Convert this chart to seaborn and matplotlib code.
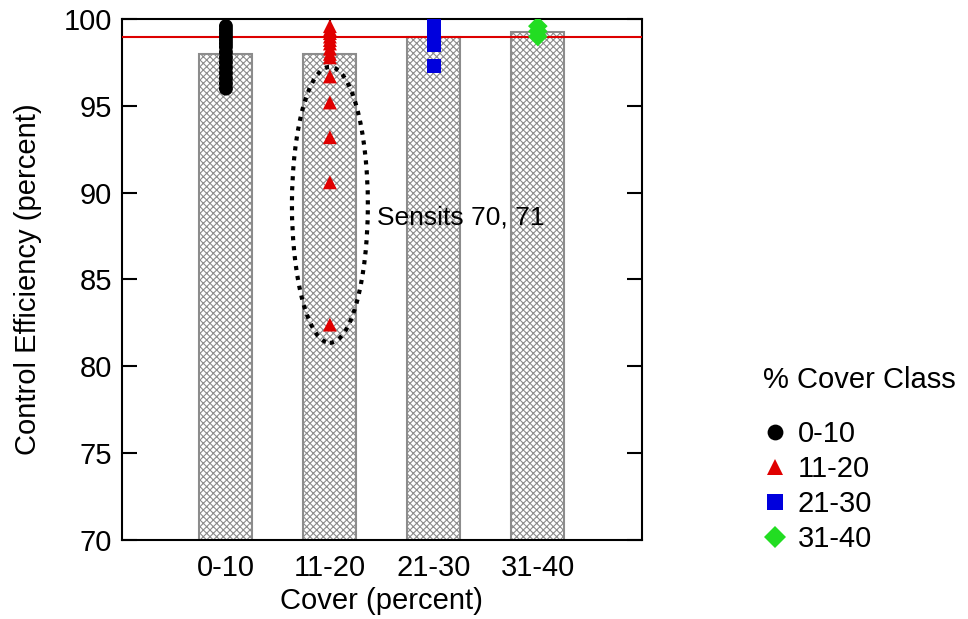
import numpy as np
import pandas as pd
import seaborn as sns
import matplotlib.pyplot as plt
from matplotlib.patches import Ellipse

categories = ["0-10", "11-20", "21-30", "31-40"]
bar_values = [98.0, 98.0, 99.0, 99.25]
target = 99.0

pts_0_10 = [99.6, 99.4, 99.2, 99.0, 98.8, 98.6, 98.4, 98.1, 97.8, 97.5, 97.2, 96.9, 96.6, 96.3, 96.0]
pts_11_20 = [99.6, 99.4, 99.2, 99.0, 98.8, 98.6, 98.3, 98.0, 97.8, 96.7, 95.2, 93.2, 90.6, 82.4]
pts_21_30 = [99.6, 99.3, 99.0, 98.7, 98.5, 97.3]
pts_31_40 = [99.6, 99.3, 99.0]

colors = ["#000000", "#e00000", "#0000dd", "#22dd22"]
markers = ["o", "^", "s", "D"]

sns.set_style("white")
plt.rcParams["font.family"] = ["Liberation Sans", "DejaVu Sans"]
plt.rcParams["text.color"] = "black"
plt.rcParams["axes.labelcolor"] = "black"
plt.rcParams["xtick.color"] = "black"
plt.rcParams["ytick.color"] = "black"
plt.rcParams["hatch.color"] = "#8c8c8c"
plt.rcParams["hatch.linewidth"] = 0.8

bars = pd.DataFrame({"Cover": categories, "CE": bar_values})
pts = pd.DataFrame({
    "Cover": ["0-10"] * len(pts_0_10) + ["11-20"] * len(pts_11_20)
             + ["21-30"] * len(pts_21_30) + ["31-40"] * len(pts_31_40),
    "CE": pts_0_10 + pts_11_20 + pts_21_30 + pts_31_40,
})

fig = plt.figure(figsize=(9.68, 6.19), dpi=100)
ax = fig.add_axes([0.126, 0.128, 0.537, 0.841])

sns.barplot(data=bars, x="Cover", y="CE", color="white", width=0.51,
            edgecolor="#8c8c8c", linewidth=1.5, ax=ax)
for p in ax.patches:
    p.set_hatch("xxxxx")

ax.axhline(target, color="#dd0000", lw=1.5, zorder=3)

sns.scatterplot(data=pts, x="Cover", y="CE", hue="Cover", style="Cover",
                palette=colors, markers=markers, s=90, edgecolor="none",
                linewidth=0, zorder=4, ax=ax)
# per-class marker sizes
for coll, sz in zip(ax.collections, [100, 70, 70, 40]):
    coll.set_sizes([sz])

ax.add_patch(Ellipse((1, 89.3), width=0.73, height=15.9, fill=False,
                     ls=(0, (1, 1.4)), lw=3, color="black", zorder=5))
ax.text(1.45, 88.6, "Sensits 70, 71", fontsize=19, va="center", ha="left")

ax.set_xlim(-1, 4)
ax.set_ylim(70, 100)
ax.set_yticks([70, 75, 80, 85, 90, 95, 100])
ax.set_xlabel("Cover (percent)", fontsize=21, labelpad=4)
ax.set_ylabel("Control Efficiency (percent)", fontsize=21, labelpad=16)
ax.tick_params(axis="both", direction="in", length=11, width=1.5, labelsize=21,
               top=True, right=True, bottom=True, left=True)
ax.tick_params(axis="x", pad=10)
ax.tick_params(axis="y", pad=7)
for sp in ax.spines.values():
    sp.set_visible(True)
    sp.set_color("black")
    sp.set_linewidth(1.5)

handles, labels = ax.get_legend_handles_labels()
ax.legend(handles, labels, title="% Cover Class", loc="upper left",
          bbox_to_anchor=(0.776, 0.428), bbox_transform=fig.transFigure,
          frameon=False, fontsize=21, title_fontsize=21, handlelength=0.8,
          handletextpad=0.4, labelspacing=0.24, markerscale=1.2,
          borderaxespad=0, alignment="left")
ax.get_legend()._legend_box.sep = 19

fig.savefig("out.png", dpi=100)
